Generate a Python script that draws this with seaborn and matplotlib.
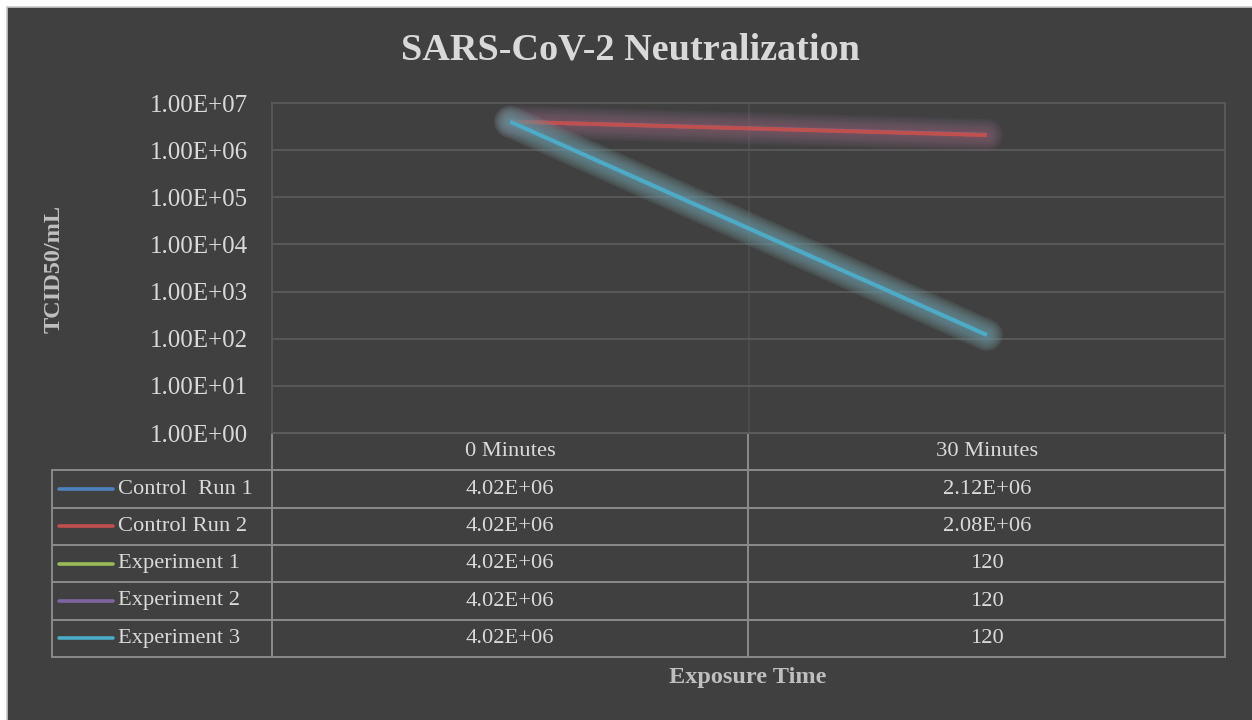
import numpy as np
import pandas as pd
import matplotlib
matplotlib.use("Agg")
import matplotlib.pyplot as plt
import matplotlib.patheffects as pe
from matplotlib.patches import Rectangle
from matplotlib.lines import Line2D
from matplotlib.ticker import FixedLocator, FuncFormatter, NullLocator
import seaborn as sns

# ---------------- data ----------------
categories = ["0 Minutes", "30 Minutes"]
series_names = ["Control  Run 1", "Control Run 2", "Experiment 1", "Experiment 2", "Experiment 3"]
control_run_1 = [4.02e6, 2.12e6]
control_run_2 = [4.02e6, 2.08e6]
experiment_1 = [4.02e6, 120]
experiment_2 = [4.02e6, 120]
experiment_3 = [4.02e6, 120]
y_ticks = [1e0, 1e1, 1e2, 1e3, 1e4, 1e5, 1e6, 1e7]
colors = ["#4F81BD", "#C0504D", "#9BBB59", "#8064A2", "#4BACC6"]

all_series = [control_run_1, control_run_2, experiment_1, experiment_2, experiment_3]

rows = []
for name, vals in zip(series_names, all_series):
    for cat, v in zip(categories, vals):
        rows.append({"time": cat, "value": v, "series": name})
df = pd.DataFrame(rows)


def fmt_cell(v):
    return f"{v:.2E}" if v >= 1e4 else f"{v:g}"


cell_text = [[fmt_cell(v) for v in vals] for vals in all_series]

# ---------------- style ----------------
sns.set_theme(style="dark")
plt.rcParams["font.family"] = ["Liberation Serif", "DejaVu Serif"]

BG = "#404040"
TXT = "#d9d9d9"
AXT = "#bfbfbf"
GRID = "#5a5a5a"
TBL = "#8a8a8a"

W, H = 1252, 720
fig = plt.figure(figsize=(W / 100, H / 100), dpi=100, facecolor="white")
fig.patches.append(Rectangle((6.5 / W, -0.02), 1.05, (H - 6.5) / H + 0.02,
                             transform=fig.transFigure, facecolor=BG,
                             edgecolor="#c8c8c8", linewidth=1.2, zorder=-10))

L, R, T, B = 272, 1225, 103, 433
ax = fig.add_axes([L / W, 1 - B / H, (R - L) / W, (B - T) / H])
ax.set_facecolor(BG)

sns.lineplot(data=df, x="time", y="value", hue="series", hue_order=series_names,
             palette=colors, ax=ax, legend=False, linewidth=2.8, sort=False,
             errorbar=None)

glow_widths = [23, 20, 17, 14, 11, 8, 5.5]
for line, c in zip(ax.lines, colors):
    line.set_solid_capstyle("butt")
    effects = [pe.Stroke(linewidth=w, foreground=c, alpha=0.065, capstyle="round")
               for w in glow_widths]
    line.set_path_effects(effects + [pe.Normal()])

ax.set_yscale("log")
ax.set_ylim(1, 1e7)
ax.set_xlim(-0.5, 1.5)
ax.yaxis.set_major_locator(FixedLocator(y_ticks))
ax.yaxis.set_minor_locator(NullLocator())
ax.yaxis.set_major_formatter(FuncFormatter(lambda v, p: f"{v:.2E}"))
ax.set_xticks([])
ax.set_xticks([0.5], minor=True)
ax.tick_params(axis="x", which="both", length=0, labelbottom=False)
ax.tick_params(axis="y", which="both", length=0, pad=17, labelsize=18, labelcolor=TXT)
ax.grid(axis="y", which="major", color=GRID, linewidth=1.3)
ax.grid(axis="x", which="minor", color="#4e4e4e", linewidth=1.2)
ax.grid(axis="x", which="major", visible=False)
ax.set_xlabel("")
ax.set_ylabel("")
for s in ax.spines.values():
    s.set_color(GRID)
    s.set_linewidth(1.3)
    s.set_visible(True)

# ---------------- data table ----------------
tbl_left, tbl_bottom = 52, 657
row_label_w = L - tbl_left
col_w = (R - L) / 2
ax_w, ax_h = R - L, B - T
tbl = ax.table(cellText=cell_text, rowLabels=series_names, colLabels=categories,
               cellLoc="center", rowLoc="left", colWidths=[col_w / ax_w] * 2,
               bbox=[0, -(tbl_bottom - B) / ax_h, 1, (tbl_bottom - B) / ax_h])
tbl._autoColumns = []
tbl.auto_set_font_size(False)
tbl.set_fontsize(16.2)
for (r, c), cell in tbl.get_celld().items():
    cell.set_edgecolor(TBL)
    cell.set_linewidth(1.4)
    cell.set_facecolor("none")
    cell.get_text().set_color(TXT)
    cell.get_text().set_fontfamily(["Liberation Serif", "DejaVu Serif"])
    if c == -1:
        cell.set_width(row_label_w / ax_w)
        cell.PAD = 66 / row_label_w

# legend keys in the row-label cells
n_rows = len(series_names) + 1
row_h = (tbl_bottom - B) / n_rows
for i, c in enumerate(colors):
    yc = -((i + 1.5) * row_h) / ax_h
    ax.add_line(Line2D([(59 - L) / ax_w, (113 - L) / ax_w], [yc, yc],
                       transform=ax.transAxes, clip_on=False, color=c,
                       linewidth=2.6, solid_capstyle="round"))

# ---------------- titles ----------------
fig.text(630 / W, 1 - 50 / H, "SARS-CoV-2 Neutralization", ha="center", va="center",
         fontsize=27.5, fontweight="bold", color=TXT)
fig.text(54 / W, 1 - 269 / H, "TCID50/mL", ha="center", va="center", rotation=90,
         fontsize=17.5, fontweight="bold", color=AXT)
fig.text(748 / W, 1 - 677 / H, "Exposure Time", ha="center", va="center",
         fontsize=17.5, fontweight="bold", color=AXT)

fig.savefig("out.png", dpi=100, facecolor=fig.get_facecolor())
